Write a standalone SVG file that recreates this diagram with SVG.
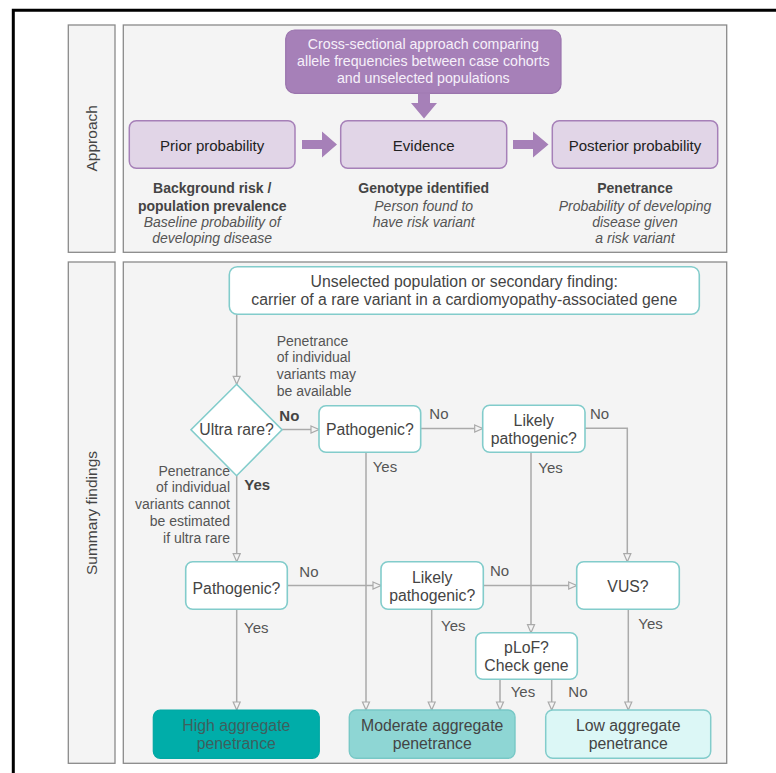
<svg xmlns="http://www.w3.org/2000/svg" width="776" height="773" viewBox="0 0 776 773">
<defs>
<marker id="tri" markerUnits="userSpaceOnUse" markerWidth="12" markerHeight="12" refX="9" refY="4.5" orient="auto">
<path d="M1,1 L9,4.5 L1,8 Z" fill="#F4F4F4" stroke="#AAAAAA" stroke-width="1.2"/>
</marker>
<style>
.panel{fill:#F4F4F4;stroke:#8A8A8A;stroke-width:1.3}
.lbl{font-family:"Liberation Sans",Arial,sans-serif;font-size:15.5px;fill:#444;text-anchor:middle}
.pbox{fill:#E1D5E7;stroke:#A680B8;stroke-width:1.5}
.ptxt{font-family:"Liberation Sans",Arial,sans-serif;font-size:15px;fill:#222;text-anchor:middle}
.ctxt{font-family:"Liberation Sans",Arial,sans-serif;font-size:14.2px;fill:#F6F0FA;text-anchor:middle}
.parrow{fill:#A680B8}
.sub{font-family:"Liberation Sans",Arial,sans-serif;font-size:14px;text-anchor:middle}
.b{font-weight:bold;fill:#444}
.it{font-style:italic;fill:#555}
.fbox{fill:#FFFFFF;stroke:#82CCCB;stroke-width:1.6}
.ftxt{font-family:"Liberation Sans",Arial,sans-serif;font-size:15.8px;fill:#444;text-anchor:middle}
.note{font-family:"Liberation Sans",Arial,sans-serif;font-size:14px;fill:#555}
.yn{font-family:"Liberation Sans",Arial,sans-serif;font-size:15px;fill:#555}
.conn{fill:none;stroke:#AAAAAA;stroke-width:1.5;marker-end:url(#tri)}
</style>
</defs>

<rect width="776" height="773" fill="#FFFFFF"/>
<path d="M13.3,773 V10.3 H776" fill="none" stroke="#000" stroke-width="3"/>

<g id="approach-label">
<rect class="panel" x="68.3" y="25" width="46.7" height="227.3"/>
<text class="lbl" transform="translate(97.2,138.3) rotate(-90)">Approach</text>
</g>
<g id="approach-panel">
<rect class="panel" x="123.3" y="25" width="603.4" height="227.3"/>
</g>
<g id="summary-label">
<rect class="panel" x="68.3" y="262" width="46.7" height="501.3"/>
<text class="lbl" transform="translate(97.2,513) rotate(-90)">Summary findings</text>
</g>
<g id="summary-panel">
<rect class="panel" x="123.3" y="262" width="603.4" height="501.3"/>
</g>

<g id="cross-sectional">
<rect x="285.7" y="30" width="275.3" height="63.3" rx="9" fill="#A680B8" stroke="#9A74AD" stroke-width="1.2"/>
<text class="ctxt" x="423.3" y="48.5">Cross-sectional approach comparing</text>
<text class="ctxt" x="423.3" y="65.8">allele frequencies between case cohorts</text>
<text class="ctxt" x="423.3" y="82.5">and unselected populations</text>
</g>

<g id="approach-arrows">
<polygon class="parrow" points="418,93.3 430,93.3 430,103 437,103 424,118.5 411,103 418,103"/>
<polygon class="parrow" points="302,140 322,140 322,131.5 337,144.5 322,157.5 322,149 302,149"/>
<polygon class="parrow" points="513,140 533,140 533,131.5 548.5,144.5 533,157.5 533,149 513,149"/>
</g>

<g id="prior">
<rect class="pbox" x="129.3" y="120.7" width="165.7" height="47.6" rx="7"/>
<text class="ptxt" x="212.2" y="151.3">Prior probability</text>
<text class="sub b" x="212.2" y="193.3">Background risk /</text>
<text class="sub b" x="212.2" y="210.7">population prevalence</text>
<text class="sub it" x="212.2" y="226.9">Baseline probability of</text>
<text class="sub it" x="212.2" y="243.3">developing disease</text>
</g>
<g id="evidence">
<rect class="pbox" x="340.7" y="120.7" width="166" height="47.6" rx="7"/>
<text class="ptxt" x="423.7" y="151.3">Evidence</text>
<text class="sub b" x="423.7" y="193.3">Genotype identified</text>
<text class="sub it" x="423.7" y="210.7">Person found to</text>
<text class="sub it" x="423.7" y="226.9">have risk variant</text>
</g>
<g id="posterior">
<rect class="pbox" x="552.3" y="120.7" width="165.4" height="47.6" rx="7"/>
<text class="ptxt" x="635" y="151.3">Posterior probability</text>
<text class="sub b" x="635" y="193.3">Penetrance</text>
<text class="sub it" x="635" y="210.7">Probability of developing</text>
<text class="sub it" x="635" y="226.9">disease given</text>
<text class="sub it" x="635" y="243.3">a risk variant</text>
</g>

<g id="connectors">
<path class="conn" d="M236.7,314.3 V384.3"/>
<path class="conn" d="M282,429.5 H319"/>
<path class="conn" d="M420.7,428.5 H482.7"/>
<path class="conn" d="M585,428.3 H627.3 V561.7"/>
<path class="conn" d="M531,452.3 V632.7"/>
<path class="conn" d="M366,452.3 V710"/>
<path class="conn" d="M236.7,475.7 V561.7"/>
<path class="conn" d="M287.3,585.5 H381"/>
<path class="conn" d="M483.3,585.5 H576.7"/>
<path class="conn" d="M236.7,609.3 V710"/>
<path class="conn" d="M431.7,609.3 V710"/>
<path class="conn" d="M500,679.3 V710"/>
<path class="conn" d="M551.7,679.3 V710"/>
<path class="conn" d="M628.3,609.3 V710"/>
</g>

<g id="connector-labels">
<text class="note" x="276.7" y="345.7">Penetrance</text>
<text class="note" x="276.7" y="362.3">of individual</text>
<text class="note" x="276.7" y="379">variants may</text>
<text class="note" x="276.7" y="395.7">be available</text>
<text class="yn" style="font-weight:bold;fill:#444" x="279.3" y="420.7">No</text>
<text class="yn" x="429.3" y="419">No</text>
<text class="yn" x="590" y="419">No</text>
<text class="yn" x="372.7" y="471.7">Yes</text>
<text class="yn" x="538.3" y="473.3">Yes</text>
<text class="yn" style="font-weight:bold;fill:#444" x="244.3" y="490">Yes</text>
<text class="note" text-anchor="end" x="230" y="475.7">Penetrance</text>
<text class="note" text-anchor="end" x="230" y="492.3">of individual</text>
<text class="note" text-anchor="end" x="230" y="509">variants cannot</text>
<text class="note" text-anchor="end" x="230" y="525.7">be estimated</text>
<text class="note" text-anchor="end" x="230" y="543.3">if ultra rare</text>
<text class="yn" x="299.3" y="576.7">No</text>
<text class="yn" x="490" y="575.7">No</text>
<text class="yn" x="244" y="633.3">Yes</text>
<text class="yn" x="441" y="630.7">Yes</text>
<text class="yn" x="638.3" y="629.3">Yes</text>
<text class="yn" x="510.7" y="696.7">Yes</text>
<text class="yn" x="568.3" y="696.7">No</text>
</g>

<g id="start">
<rect class="fbox" x="229.3" y="266.7" width="470" height="47.6" rx="8"/>
<text class="ftxt" x="464.3" y="287">Unselected population or secondary finding:</text>
<text class="ftxt" x="464.3" y="304.6">carrier of a rare variant in a cardiomyopathy-associated gene</text>
</g>
<g id="ultra-rare">
<polygon class="fbox" points="236.6,384.3 282,429.8 236.6,475.7 191,429.8"/>
<text class="ftxt" x="236.6" y="435.3">Ultra rare?</text>
</g>
<g id="pathogenic-1">
<rect class="fbox" x="319" y="405.7" width="101.7" height="46.6" rx="7"/>
<text class="ftxt" x="369.8" y="434.8">Pathogenic?</text>
</g>
<g id="likely-pathogenic-1">
<rect class="fbox" x="482.7" y="405.2" width="102.3" height="47.1" rx="7"/>
<text class="ftxt" x="533.8" y="426">Likely</text>
<text class="ftxt" x="533.8" y="444">pathogenic?</text>
</g>
<g id="pathogenic-2">
<rect class="fbox" x="185.7" y="561.7" width="101.6" height="47.6" rx="7"/>
<text class="ftxt" x="236.5" y="594.3">Pathogenic?</text>
</g>
<g id="likely-pathogenic-2">
<rect class="fbox" x="381" y="561.7" width="102.3" height="47.6" rx="7"/>
<text class="ftxt" x="432.2" y="582.7">Likely</text>
<text class="ftxt" x="432.2" y="601">pathogenic?</text>
</g>
<g id="vus">
<rect class="fbox" x="576.7" y="561.7" width="102.6" height="47.6" rx="7"/>
<text class="ftxt" x="628" y="591.5">VUS?</text>
</g>
<g id="plof">
<rect class="fbox" x="475.7" y="632.7" width="101.6" height="46.6" rx="7"/>
<text class="ftxt" x="526.5" y="652.7">pLoF?</text>
<text class="ftxt" x="526.5" y="671">Check gene</text>
</g>
<g id="high">
<rect x="153.3" y="710" width="166" height="48.3" rx="7" fill="#00ADA9" stroke="#00A8A4" stroke-width="1.2"/>
<text class="ftxt" style="fill:#3E5F5E" x="236.3" y="731">High aggregate</text>
<text class="ftxt" style="fill:#3E5F5E" x="236.3" y="749.3">penetrance</text>
</g>
<g id="moderate">
<rect x="349.3" y="710" width="165.7" height="48.3" rx="7" fill="#8ED6D4" stroke="#78C8C6" stroke-width="1.4"/>
<text class="ftxt" x="432.2" y="731">Moderate aggregate</text>
<text class="ftxt" x="432.2" y="749.3">penetrance</text>
</g>
<g id="low">
<rect x="545.7" y="710" width="165" height="48.3" rx="7" fill="#DCF7F6" stroke="#82CCCB" stroke-width="1.5"/>
<text class="ftxt" x="628.2" y="731">Low aggregate</text>
<text class="ftxt" x="628.2" y="749.3">penetrance</text>
</g>
</svg>
